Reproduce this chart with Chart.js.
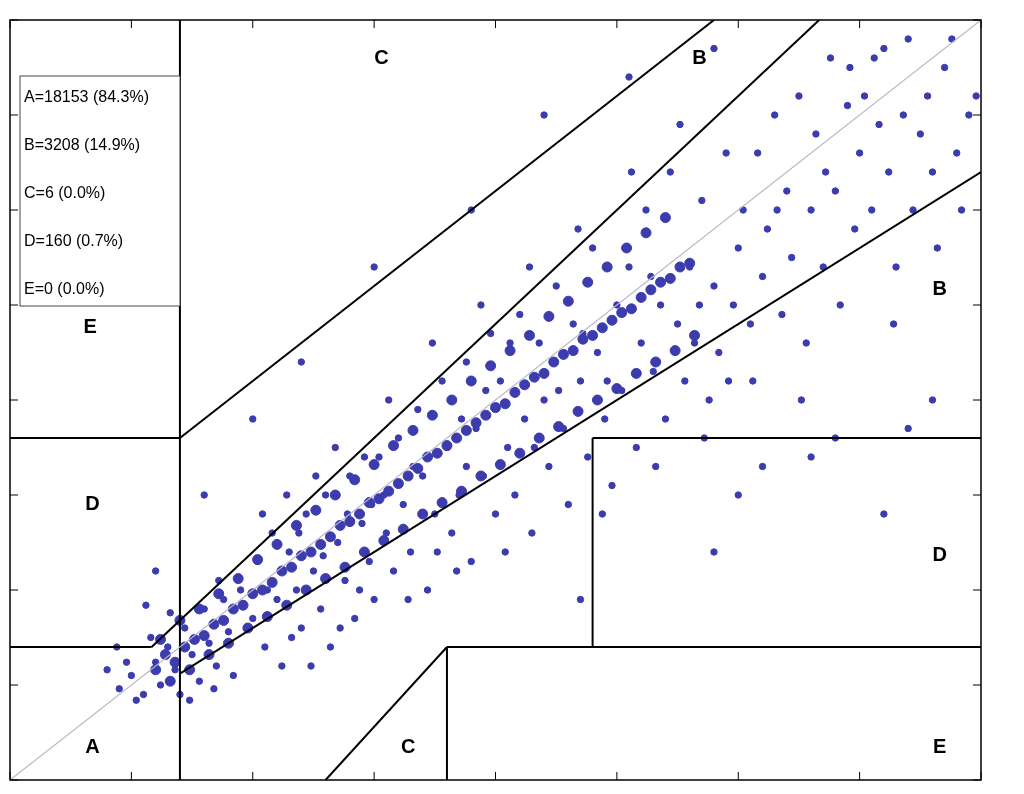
<!DOCTYPE html>
<html><head><meta charset="utf-8">
<script src="https://cdn.jsdelivr.net/npm/chart.js@4/dist/chart.umd.min.js"></script>
<style>html,body{margin:0;padding:0;background:#fff;overflow:hidden}#c{display:block}</style>
</head><body>
<canvas id="c" width="1024" height="794"></canvas>
<script>
// Clarke error grid, mg/dL
const axisTicks = [0,50,100,150,200,250,300,350,400];
const zoneLines = [
 [[0,0],[400,400]],
 [[0,70],[175/3,70]],
 [[175/3,70],[400/1.2,400]],
 [[70,84],[70,400]],
 [[0,180],[70,180]],
 [[70,180],[290,400]],
 [[70,0],[70,84]],
 [[70,56],[400,320]],
 [[180,0],[180,70]],
 [[180,70],[400,70]],
 [[240,70],[240,180]],
 [[240,180],[400,180]],
 [[130,0],[180,70]]
];
const zoneLabels = ["C","B","B","E","D","D","A","C","E"];
const zoneLabelX = [153,284,383,33,34,383,34,164,383];
const zoneLabelY = [380,380,258,238,145,118,17,17,17];
const legendLines = ["A=18153 (84.3%)","B=3208 (14.9%)","C=6 (0.0%)","D=160 (0.7%)","E=0 (0.0%)"];
const samplePairs = [
45,48,50,55,55,45,60,62,62,50,65,70,68,58,70,45,72,80,75,66,78,52,80,90,82,72,85,60,88,95,90,78,92,55,95,100,58,75,48,62,52,42,66,88,74,42,84,48,86,105,40,58,44,70,56,92,
100,85,102,115,105,70,108,130,110,95,112,60,115,120,118,100,120,80,122,140,125,110,128,90,130,150,132,70,135,125,138,105,140,160,142,85,145,135,148,115,150,95,104,140,116,75,126,160,136,80,146,170,114,150,124,60,134,175,144,100,106,100,119,130,129,118,139,140,149,145,
152,170,155,130,158,110,160,180,162,145,165,120,168,195,170,160,172,100,175,140,178,210,180,175,182,130,185,150,188,220,190,115,192,185,195,160,198,235,200,140,156,200,164,95,174,230,184,110,194,250,166,165,176,120,186,190,196,205,154,150,188,165,
202,210,205,175,208,150,210,245,212,190,215,130,218,230,220,200,222,165,225,260,228,185,230,145,232,240,235,210,238,170,240,280,242,225,245,190,248,155,250,250,204,120,214,270,224,220,234,290,244,140,216,175,226,205,236,235,246,210,206,230,
252,205,255,270,258,175,260,230,262,300,265,215,268,250,270,190,272,320,275,240,278,210,280,270,282,230,285,305,288,200,290,260,292,225,295,330,298,250,300,280,256,320,266,165,276,345,286,180,296,210,264,265,284,250,
302,300,305,240,308,330,310,265,312,290,315,350,318,245,320,310,322,275,325,360,328,230,330,300,332,340,335,270,338,380,340,310,342,250,345,355,348,290,350,330,306,210,316,300,326,200,336,320,346,375,
352,360,355,300,358,345,360,385,362,320,365,270,368,350,370,390,372,300,375,340,378,360,380,320,385,375,388,390,390,330,395,350,398,360,364,240,382,280,392,300,356,380,
150,270,120,220,100,190,190,300,220,350,255,370,290,385,300,150,330,170,340,180,360,140,370,185,380,200,235,95,80,150,60,110,290,120,310,165
];
const corePairs = [
60,58,64,66,68,62,72,70,76,74,80,76,84,82,88,84,92,90,96,92,100,98,104,100,108,104,112,110,116,112,120,118,124,120,128,124,132,128,136,134,140,136,144,140,148,146,152,148,156,152,160,156,164,160,168,164,172,170,176,172,180,176,184,180,188,184,192,188,196,192,200,196,204,198,208,204,212,208,216,212,220,214,224,220,228,224,232,226,236,232,240,234,244,238,248,242,252,246,256,248,260,254,264,258,268,262,272,264,276,270,280,272,
62,74,70,84,78,90,86,98,94,106,102,116,110,124,118,134,126,142,134,150,142,158,150,166,158,176,166,184,174,192,182,200,190,210,198,218,206,226,214,234,222,244,230,252,238,262,246,270,254,280,262,288,270,296,
66,52,74,58,82,66,90,72,98,80,106,86,114,92,122,100,130,106,138,112,146,120,154,126,162,132,170,140,178,146,186,152,194,160,202,166,210,172,218,180,226,186,234,194,242,200,250,206,258,214,266,220,274,226,282,234
];
function toPoints(arr){const p=[];for(let i=0;i<arr.length;i+=2)p.push({x:arr[i],y:arr[i+1]});return p;}

const datasets = [
 {type:'scatter',data:toPoints(samplePairs),backgroundColor:'#3c3cae',borderColor:'#3c3cae',pointRadius:3.2,order:2},
 {type:'scatter',data:toPoints(corePairs),backgroundColor:'#3c3cae',borderColor:'#3c3cae',pointRadius:5,order:2}
];
zoneLines.forEach((s,i)=>datasets.push({type:'line',data:s.map(p=>({x:p[0],y:p[1]})),
  borderColor:i===0?'#b8b8c8':'#000',borderWidth:i===0?1.2:2,pointRadius:0,fill:false,order:1}));

const deco = {id:'deco',afterDatasetsDraw(ch){
  const c=ch.ctx,x=ch.scales.x,y=ch.scales.y,a=ch.chartArea;
  c.save();
  c.strokeStyle='#000';c.lineWidth=1.5;c.strokeRect(a.left,a.top,a.right-a.left,a.bottom-a.top);
  c.lineWidth=1;
  axisTicks.forEach(t=>{const px=x.getPixelForValue(t),py=y.getPixelForValue(t);
    c.beginPath();c.moveTo(px,a.bottom);c.lineTo(px,a.bottom-8);c.moveTo(px,a.top);c.lineTo(px,a.top+8);
    c.moveTo(a.left,py);c.lineTo(a.left+8,py);c.moveTo(a.right,py);c.lineTo(a.right-8,py);c.stroke();});
  c.fillStyle='#000';c.font='bold 20px Arial, "Liberation Sans", sans-serif';c.textAlign='center';c.textBaseline='middle';
  zoneLabels.forEach((l,i)=>c.fillText(l,x.getPixelForValue(zoneLabelX[i]),y.getPixelForValue(zoneLabelY[i])));
  const bx=a.left+10,by=a.top+56,bw=160,bh=230;
  c.fillStyle='#fff';c.fillRect(bx,by,bw,bh);c.strokeStyle='#444';c.strokeRect(bx,by,bw,bh);
  c.fillStyle='#000';c.font='16px Arial, "Liberation Sans", sans-serif';c.textAlign='left';
  legendLines.forEach((t,i)=>c.fillText(t,bx+4,by+22+i*48));
  c.restore();
}};

new Chart(document.getElementById('c'),{
  data:{datasets},
  options:{responsive:false,animation:false,
    layout:{padding:{left:10,top:20,right:43,bottom:14}},
    plugins:{legend:{display:false},tooltip:{enabled:false}},
    scales:{x:{type:'linear',min:0,max:400,display:false},y:{type:'linear',min:0,max:400,display:false}}},
  plugins:[deco]
});
</script>
</body></html>
